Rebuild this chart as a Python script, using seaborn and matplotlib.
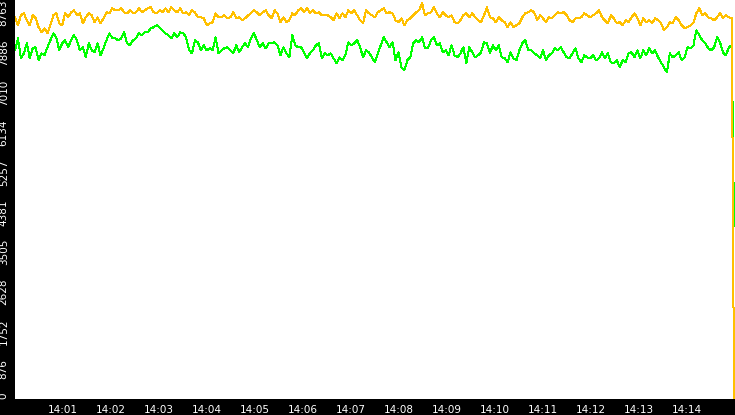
import numpy as np
import pandas as pd
import matplotlib
matplotlib.use("Agg")
import matplotlib.pyplot as plt
import seaborn as sns

# ---------------- data ----------------
orange_values = [
    8383, 8207, 8427, 8471, 8317, 8207, 8427, 8361, 8163, 8053, 8141, 8031, 8207, 8427, 8471, 8251, 8207, 8471,
    8383, 8493, 8537, 8427, 8471, 8251, 8383, 8471, 8427, 8273, 8383, 8251, 8361, 8493, 8471, 8581, 8537,
    8537, 8581, 8493, 8471, 8537, 8471, 8493, 8581, 8493, 8537, 8581, 8603, 8493, 8471, 8537, 8493, 8581, 8493,
    8603, 8537, 8493, 8581, 8471, 8493, 8427, 8537, 8493, 8383, 8383, 8361, 8207, 8251, 8273, 8471, 8383,
    8383, 8427, 8361, 8383, 8493, 8361, 8383, 8317, 8361, 8427, 8471, 8537, 8493, 8427, 8493, 8537, 8427, 8361,
    8537, 8471, 8273, 8383, 8273, 8317, 8471, 8427, 8537, 8581, 8493, 8581, 8471, 8537, 8471, 8493, 8427,
    8427, 8427, 8383, 8317, 8471, 8361, 8471, 8383, 8537, 8471, 8537, 8427, 8317, 8251, 8537, 8471, 8427, 8383,
    8493, 8537, 8581, 8471, 8493, 8471, 8317, 8273, 8361, 8207, 8317, 8361, 8427, 8493, 8537, 8691, 8427,
    8471, 8493, 8603, 8471, 8383, 8493, 8427, 8383, 8427, 8273, 8251, 8317, 8427, 8471, 8383, 8471, 8383, 8317,
    8273, 8427, 8603, 8383, 8361, 8273, 8383, 8317, 8273, 8163, 8273, 8163, 8207, 8251, 8383, 8471, 8493,
    8537, 8493, 8317, 8427, 8361, 8273, 8383, 8361, 8427, 8493, 8471, 8493, 8427, 8317, 8273, 8361, 8361, 8383,
    8471, 8427, 8383, 8427, 8471, 8537, 8383, 8317, 8251, 8427, 8361, 8251, 8273, 8207, 8317, 8273,
    8383, 8471, 8361, 8207, 8361, 8273, 8317, 8251, 8361, 8317, 8251, 8097, 8163, 8273, 8251, 8383, 8317, 8207,
    8141, 8163, 8207, 8273, 8471, 8581, 8427, 8471, 8383, 8361, 8317, 8383, 8471, 8361, 8427, 8383, 8361,
    0,
]
green_values = [
    7657, 7921, 7481, 7591, 7811, 7481, 7701, 7723, 7437, 7591, 7547, 7723, 7877, 8031, 7943, 7657, 7811, 7877,
    7723, 7877, 7987, 7877, 7657, 7723, 7503, 7811, 7657, 7613, 7811, 7547, 7701, 7877, 8031, 7921, 7921,
    7877, 7921, 8053, 7811, 7767, 7877, 7921, 8031, 7987, 8053, 8053, 8141, 8163, 8207, 8163, 8097, 8031, 7987,
    7921, 8031, 7943, 8053, 8031, 7943, 7657, 7591, 7877, 7833, 7657, 7767, 7657, 7701, 7657, 7943, 7591,
    7657, 7701, 7723, 7657, 7591, 7767, 7613, 7723, 7811, 7723, 7921, 8031, 7877, 7723, 7811, 7701, 7811, 7811,
    7833, 7767, 7547, 7723, 7591, 7503, 7987, 7767, 7723, 7723, 7613, 7481, 7591, 7657, 7767, 7811, 7481,
    7591, 7547, 7591, 7481, 7371, 7503, 7437, 7547, 7833, 7767, 7811, 7877, 7723, 7503, 7657, 7613, 7503, 7393,
    7591, 7767, 7943, 7833, 7723, 7833, 7437, 7613, 7283, 7217, 7437, 7503, 7811, 7877, 7833, 7943, 7701,
    7701, 7877, 7943, 7767, 7811, 7613, 7657, 7547, 7767, 7547, 7503, 7591, 7723, 7371, 7723, 7613, 7503, 7547,
    7613, 7833, 7811, 7591, 7767, 7657, 7767, 7503, 7481, 7393, 7613, 7481, 7437, 7657, 7811, 7877, 7657,
    7657, 7591, 7547, 7481, 7657, 7437, 7547, 7591, 7701, 7657, 7723, 7613, 7503, 7481, 7591, 7701, 7481, 7393,
    7547, 7503, 7481, 7547, 7437, 7481, 7613, 7481, 7591, 7393, 7371, 7437, 7283, 7437, 7393, 7591,
    7613, 7503, 7657, 7481, 7657, 7547, 7701, 7591, 7657, 7503, 7393, 7283, 7173, 7591, 7503, 7547, 7613, 7437,
    7503, 7723, 7701, 7767, 8097, 7987, 7877, 7811, 7701, 7657, 7723, 7943, 7833, 7613, 7547, 7723, 7767,
    3800,
]
y_ticks = [0, 876.3, 1752.6, 2628.9, 3505.2, 4381.5, 5257.8, 6134.1, 7010.4, 7886.7, 8763]
y_tick_labels = ["0", "876", "1752", "2628", "3505", "4381", "5257", "6134", "7010", "7886", "8763"]
x_tick_labels = ["14:01", "14:02", "14:03", "14:04", "14:05", "14:06", "14:07",
                 "14:08", "14:09", "14:10", "14:11", "14:12", "14:13", "14:14"]

start = pd.Timestamp("2024-01-01 14:00:00")
end = pd.Timestamp("2024-01-01 14:15:00")
n = len(orange_values) - 1
secs = list(np.linspace(0, 896, n)) + [898.8]
times = start + pd.to_timedelta(secs, unit="s")

df = pd.concat([
    pd.DataFrame({"time": times, "value": green_values, "series": "green"}),
    pd.DataFrame({"time": times, "value": orange_values, "series": "orange"}),
])

# ---------------- figure ----------------
sns.set_style("white")
plt.rcParams["font.family"] = ["DejaVu Sans"]

fig = plt.figure(figsize=(7.35, 4.15), dpi=100, facecolor="black")
ax = fig.add_axes([15 / 735, 16.5 / 415, 720 / 735, 398.5 / 415])
ax.set_facecolor("white")

sns.lineplot(data=df, x="time", y="value", hue="series", hue_order=["green", "orange"],
             palette={"green": "#00ff00", "orange": "#ffc000"}, linewidth=0.72,
             antialiased=False, legend=False, ax=ax, estimator=None, sort=False)

ax.set_xlim(start, end)
ax.set_ylim(0, 8763)

ax.set_yticks(y_ticks)
ax.set_yticklabels(y_tick_labels, rotation=90, va="top", ha="right")
for lbl in ax.get_yticklabels():
    if lbl.get_text() == "0":
        lbl.set_va("bottom")

xt = [start + pd.Timedelta(minutes=i + 1) for i in range(len(x_tick_labels))]
ax.set_xticks(xt)
ax.set_xticklabels(x_tick_labels)

ax.tick_params(axis="both", colors="white", labelcolor="white", direction="out",
               length=4, width=1, labelsize=7.5, pad=1)
ax.tick_params(axis="y", pad=0.5)
ax.set_xlabel("")
ax.set_ylabel("")
for s in ax.spines.values():
    s.set_visible(False)

fig.savefig("out.png", dpi=100, facecolor="black")
